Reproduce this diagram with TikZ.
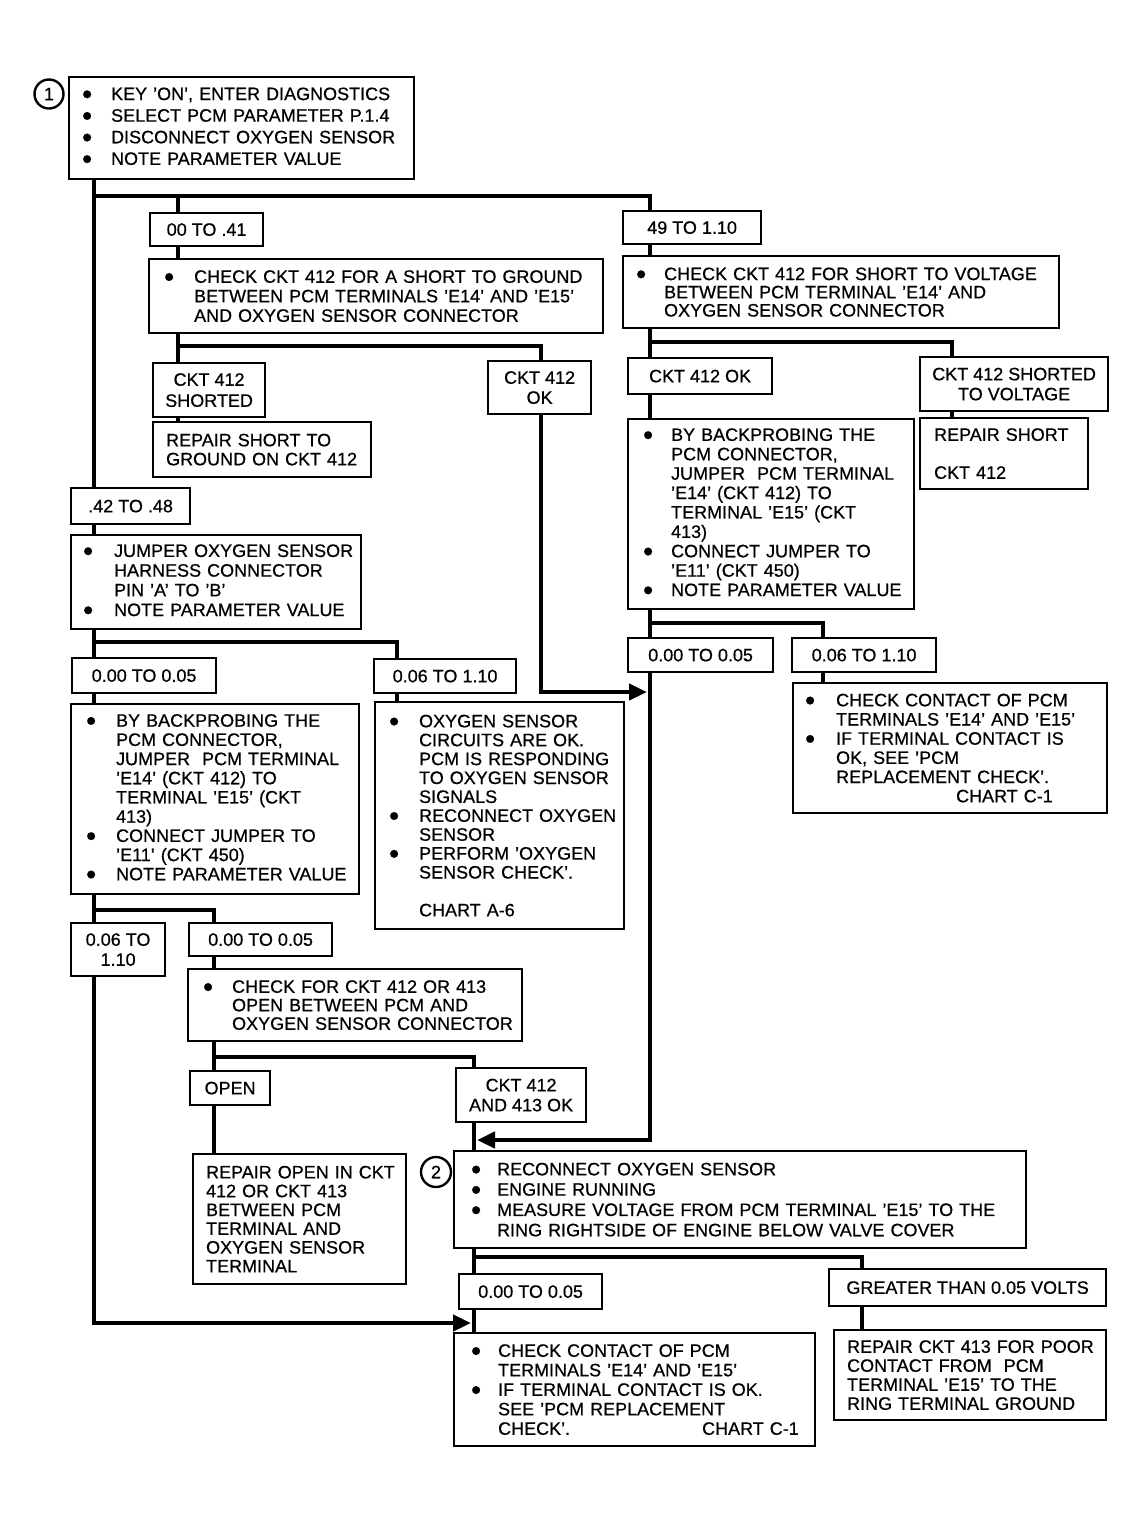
\documentclass[tikz,border=0pt]{standalone}
\usepackage{fontspec}
\setmainfont{Liberation Sans}[FakeBold=0.6]
\usetikzlibrary{arrows.meta}
\newlength\bw
\setlength\bw{14.5pt}
\newcommand\dotb{\raisebox{-1.9pt}{\scalebox{1.6}{\textbullet}}}
\newcommand\bi[1]{\mbox{\makebox[\bw][l]{\dotb}#1}}
\newcommand\ci[1]{\mbox{\hspace*{\bw}#1}}
\begin{document}
\begin{tikzpicture}[x=0.5pt,y=-0.5pt,
  box/.style={draw, line width=1.1pt, inner ysep=0pt, anchor=north west, font=\fontsize{9}{9.7}\selectfont},
  lbox/.style={box, align=left},
  cbox/.style={box, align=center, inner xsep=0pt},
  conn/.style={line width=2.2pt},
  arr/.style={-{Triangle[length=9pt,width=8pt]}},
  num/.style={circle, draw, line width=1.2pt, inner sep=0pt, minimum size=14.5pt, font=\fontsize{9}{10}\selectfont}]
\path[fill=white] (0,0) rectangle (1145,1522);
\useasboundingbox (0,0) rectangle (1145,1522);

% ---------- boxes ----------
\node[num] (c1) at (49,94) {1};
\node[lbox, minimum width=172.5pt, minimum height=51pt, inner xsep=6.5pt, text width=159.5pt, font=\fontsize{9}{10.8}\selectfont] (b1) at (68,76)
 {\setlength\bw{14.5pt}\bi{KEY 'ON', ENTER DIAGNOSTICS}\\ \bi{SELECT PCM PARAMETER P.1.4}\\ \bi{DISCONNECT OXYGEN SENSOR}\\ \bi{NOTE PARAMETER VALUE}};

\node[cbox, minimum width=56.5pt, minimum height=16.5pt] (r00) at (149,212) {00 TO .41};
\node[cbox, minimum width=69pt, minimum height=16.5pt] (r49) at (622,210) {49 TO 1.10};

\node[lbox, minimum width=227pt, minimum height=37pt, inner xsep=7.5pt, text width=212pt, font=\fontsize{9}{9.75}\selectfont] (chkL) at (148,258)
 {\setlength\bw{15pt}\bi{CHECK CKT 412 FOR A SHORT TO GROUND}\\ \ci{BETWEEN PCM TERMINALS 'E14' AND 'E15'}\\ \ci{AND OXYGEN SENSOR CONNECTOR}};
\node[lbox, minimum width=218pt, minimum height=36pt, inner xsep=6.5pt, text width=205pt, font=\fontsize{9}{9.1}\selectfont] (chkR) at (622,255)
 {\setlength\bw{14pt}\bi{CHECK CKT 412 FOR SHORT TO VOLTAGE}\\ \ci{BETWEEN PCM TERMINAL 'E14' AND}\\ \ci{OXYGEN SENSOR CONNECTOR}};

\node[cbox, minimum width=56pt, minimum height=27pt, font=\fontsize{9}{10.5}\selectfont] (sh412) at (152,362) {CKT 412\\SHORTED};
\node[lbox, minimum width=109pt, minimum height=27.5pt, inner xsep=6.5pt, text width=96pt, font=\fontsize{9}{9.5}\selectfont] (repS) at (152,421)
 {\mbox{REPAIR SHORT TO}\\ \mbox{GROUND ON CKT 412}};
\node[cbox, minimum width=51.5pt, minimum height=26.5pt, font=\fontsize{9}{10}\selectfont] (ok412) at (487,360) {CKT 412\\OK};

\node[cbox, minimum width=72pt, minimum height=18pt] (okR) at (627,357) {CKT 412 OK};
\node[cbox, minimum width=94pt, minimum height=27pt, font=\fontsize{9}{10}\selectfont] (shV) at (919,356) {CKT 412 SHORTED\\TO VOLTAGE};
\node[lbox, minimum width=84pt, minimum height=35.5pt, inner xsep=7pt, text width=70pt, font=\fontsize{9}{9.5}\selectfont] (repV) at (919,417)
 {\mbox{REPAIR SHORT}\\ \mbox{}\\ \mbox{CKT 412}};

\node[lbox, minimum width=143pt, minimum height=95pt, inner xsep=7.5pt, text width=128pt, font=\fontsize{9}{9.7}\selectfont] (bpR) at (627,418)
 {\setlength\bw{14pt}\bi{BY BACKPROBING THE}\\ \ci{PCM CONNECTOR,}\\ \ci{JUMPER\ \ PCM TERMINAL}\\ \ci{'E14' (CKT 412) TO}\\ \ci{TERMINAL 'E15' (CKT}\\ \ci{413)}\\ \bi{CONNECT JUMPER TO}\\ \ci{'E11' (CKT 450)}\\ \bi{NOTE PARAMETER VALUE}};

\node[cbox, minimum width=72.5pt, minimum height=17pt] (r005R) at (627,637) {0.00 TO 0.05};
\node[cbox, minimum width=72pt, minimum height=17pt] (r06R) at (791,637) {0.06 TO 1.10};
\node[lbox, minimum width=157pt, minimum height=65pt, inner xsep=6pt, text width=145pt, font=\fontsize{9}{9.6}\selectfont] (ccR) at (792,682)
 {\setlength\bw{15.5pt}\bi{CHECK CONTACT OF PCM}\\ \ci{TERMINALS 'E14' AND 'E15'}\\ \bi{IF TERMINAL CONTACT IS}\\ \ci{OK, SEE 'PCM}\\ \ci{REPLACEMENT CHECK'.}\\ \ci{\hspace*{60pt}CHART C-1}};

\node[cbox, minimum width=59.5pt, minimum height=18pt] (r42) at (70,487) {.42 TO .48};
\node[lbox, minimum width=145pt, minimum height=47pt, inner xsep=6pt, text width=133pt, font=\fontsize{9}{9.85}\selectfont] (jmp) at (70,534)
 {\setlength\bw{15.5pt}\bi{JUMPER OXYGEN SENSOR}\\ \ci{HARNESS CONNECTOR}\\ \ci{PIN 'A' TO 'B'}\\ \bi{NOTE PARAMETER VALUE}};

\node[cbox, minimum width=72pt, minimum height=17.5pt] (r0005L) at (71,657) {0.00 TO 0.05};
\node[cbox, minimum width=71pt, minimum height=17pt] (r06L) at (373,658) {0.06 TO 1.10};

\node[lbox, minimum width=144pt, minimum height=95pt, inner xsep=7.5pt, text width=129pt, font=\fontsize{9}{9.6}\selectfont] (bpL) at (70,703)
 {\setlength\bw{15pt}\bi{BY BACKPROBING THE}\\ \ci{PCM CONNECTOR,}\\ \ci{JUMPER\ \ PCM TERMINAL}\\ \ci{'E14' (CKT 412) TO}\\ \ci{TERMINAL 'E15' (CKT}\\ \ci{413)}\\ \bi{CONNECT JUMPER TO}\\ \ci{'E11' (CKT 450)}\\ \bi{NOTE PARAMETER VALUE}};
\node[lbox, minimum width=124.5pt, minimum height=113.5pt, inner xsep=7pt, text width=110.5pt, font=\fontsize{9}{9.45}\selectfont] (oxy) at (374,701)
 {\setlength\bw{15pt}\bi{OXYGEN SENSOR}\\ \ci{CIRCUITS ARE OK.}\\ \ci{PCM IS RESPONDING}\\ \ci{TO OXYGEN SENSOR}\\ \ci{SIGNALS}\\ \bi{RECONNECT OXYGEN}\\ \ci{SENSOR}\\ \bi{PERFORM 'OXYGEN}\\ \ci{SENSOR CHECK'.}\\ \ci{}\\ \ci{CHART A-6}};

\node[cbox, minimum width=47pt, minimum height=26.5pt, font=\fontsize{9}{10}\selectfont] (r06b) at (70,922) {0.06 TO\\1.10};
\node[cbox, minimum width=71.5pt, minimum height=16.5pt] (r005b) at (188,922) {0.00 TO 0.05};
\node[lbox, minimum width=167pt, minimum height=36pt, inner xsep=7.5pt, text width=152pt, font=\fontsize{9}{9.25}\selectfont] (chkO) at (187,968)
 {\setlength\bw{14.5pt}\bi{CHECK FOR CKT 412 OR 413}\\ \ci{OPEN BETWEEN PCM AND}\\ \ci{OXYGEN SENSOR CONNECTOR}};

\node[cbox, minimum width=40pt, minimum height=17pt] (open) at (189,1070) {OPEN};
\node[lbox, minimum width=106.5pt, minimum height=65pt, inner xsep=6.5pt, text width=93.5pt, font=\fontsize{9}{9.4}\selectfont] (repO) at (192,1153)
 {\mbox{REPAIR OPEN IN CKT}\\ \mbox{412 OR CKT 413}\\ \mbox{BETWEEN PCM}\\ \mbox{TERMINAL AND}\\ \mbox{OXYGEN SENSOR}\\ \mbox{TERMINAL}};
\node[cbox, minimum width=65pt, minimum height=27pt, font=\fontsize{9}{10}\selectfont] (ok413) at (455,1067) {CKT 412\\AND 413 OK};

\node[num, minimum size=15pt] (c2) at (436,1172) {2};
\node[lbox, minimum width=286pt, minimum height=48.5pt, inner xsep=8.5pt, text width=269pt, font=\fontsize{9}{10.15}\selectfont] (b2) at (453,1150)
 {\setlength\bw{13pt}\bi{RECONNECT OXYGEN SENSOR}\\ \bi{ENGINE RUNNING}\\ \bi{MEASURE VOLTAGE FROM PCM TERMINAL 'E15' TO THE}\\ \ci{RING RIGHTSIDE OF ENGINE BELOW VALVE COVER}};

\node[cbox, minimum width=71.5pt, minimum height=17.5pt] (r005B) at (458,1273) {0.00 TO 0.05};
\node[cbox, minimum width=138.5pt, minimum height=18.5pt] (gt) at (828,1268) {GREATER THAN 0.05 VOLTS};
\node[lbox, minimum width=180.5pt, minimum height=56.5pt, inner xsep=8.5pt, text width=163.5pt, font=\fontsize{9}{9.75}\selectfont] (ccB) at (453,1332)
 {\setlength\bw{13.5pt}\bi{CHECK CONTACT OF PCM}\\ \ci{TERMINALS 'E14' AND 'E15'}\\ \bi{IF TERMINAL CONTACT IS OK.}\\ \ci{SEE 'PCM REPLACEMENT}\\ \ci{\makebox[102pt][l]{CHECK'.}CHART C-1}};
\node[lbox, minimum width=136pt, minimum height=45pt, inner xsep=6.5pt, text width=123pt, font=\fontsize{9}{9.5}\selectfont] (rep413) at (833,1329)
 {\mbox{REPAIR CKT 413 FOR POOR}\\ \mbox{CONTACT FROM\ \ PCM}\\ \mbox{TERMINAL 'E15' TO THE}\\ \mbox{RING TERMINAL GROUND}};

% ---------- routing coordinates ----------
\coordinate (xA) at (94,0);
\coordinate (xL) at (178,0);
\coordinate (xR) at (650,0);
\coordinate (xM) at (541,0);
\coordinate (xV) at (952,0);
\coordinate (xS) at (823,0);
\coordinate (xO) at (397,0);
\coordinate (xP) at (214,0);
\coordinate (xT) at (474,0);
\coordinate (xG) at (862,0);
\coordinate (yB) at (0,196);
\coordinate (yC) at (0,346);
\coordinate (yD) at (0,342);
\coordinate (yE) at (0,623);
\coordinate (yG) at (0,642);
\coordinate (yH) at (0,910);
\coordinate (yJ) at (0,1057);
\coordinate (yK) at (0,1257);
\coordinate (tip1) at (647,692);
\coordinate (tip2) at (477,1140);
\coordinate (tip3) at (471,1323);

% ---------- connectors ----------
\draw[conn] (b1.south -| xA) -- (r42.north -| xA);
\draw[conn] (yB -| xA) -| (r49.north -| xR);
\draw[conn] (yB -| xL) -- (r00.north -| xL);
\draw[conn] (r00.south -| xL) -- (chkL.north -| xL);
\draw[conn] (r49.south -| xR) -- (chkR.north -| xR);
\draw[conn] (chkL.south -| xL) -- (sh412.north -| xL);
\draw[conn] (yC -| xL) -| (ok412.north -| xM);
\draw[conn] (sh412.south -| xL) -- (repS.north -| xL);
\draw[conn,arr] (ok412.south -| xM) |- (tip1);
\draw[conn] (chkR.south -| xR) -- (okR.north -| xR);
\draw[conn] (yD -| xR) -| (shV.north -| xV);
\draw[conn] (shV.south -| xV) -- (repV.north -| xV);
\draw[conn] (okR.south -| xR) -- (bpR.north -| xR);
\draw[conn] (bpR.south -| xR) -- (r005R.north -| xR);
\draw[conn] (yE -| xR) -| (r06R.north -| xS);
\draw[conn] (r06R.south -| xS) -- (ccR.north -| xS);
\draw[conn,arr] (r005R.south -| xR) |- (tip2);
\draw[conn] (r42.south -| xA) -- (jmp.north -| xA);
\draw[conn] (jmp.south -| xA) -- (r0005L.north -| xA);
\draw[conn] (yG -| xA) -| (r06L.north -| xO);
\draw[conn] (r06L.south -| xO) -- (oxy.north -| xO);
\draw[conn] (r0005L.south -| xA) -- (bpL.north -| xA);
\draw[conn] (bpL.south -| xA) -- (r06b.north -| xA);
\draw[conn] (yH -| xA) -| (r005b.north -| xP);
\draw[conn,arr] (r06b.south -| xA) |- (tip3);
\draw[conn] (r005b.south -| xP) -- (chkO.north -| xP);
\draw[conn] (chkO.south -| xP) -- (open.north -| xP);
\draw[conn] (yJ -| xP) -| (ok413.north -| xT);
\draw[conn] (open.south -| xP) -- (repO.north -| xP);
\draw[conn] (ok413.south -| xT) -- (b2.north -| xT);
\draw[conn] (b2.south -| xT) -- (r005B.north -| xT);
\draw[conn] (yK -| xT) -| (gt.north -| xG);
\draw[conn] (r005B.south -| xT) -- (ccB.north -| xT);
\draw[conn] (gt.south -| xG) -- (rep413.north -| xG);
\end{tikzpicture}
\end{document}
